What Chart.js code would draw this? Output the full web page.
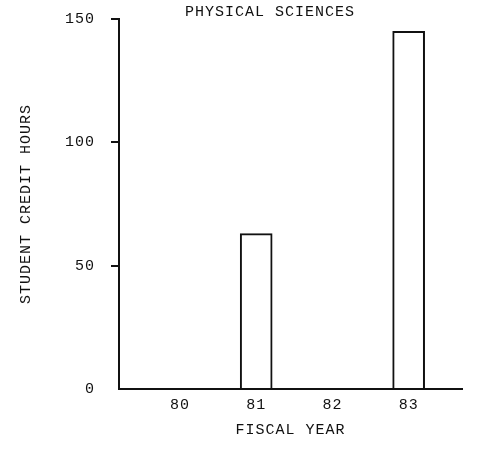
<!DOCTYPE html>
<html>
<head>
<meta charset="utf-8">
<script src="https://cdn.jsdelivr.net/npm/chart.js@4"></script>
<style>
  html, body { margin: 0; padding: 0; background: #fff; }
  canvas { display: block; }
</style>
</head>
<body>
<canvas id="creditChart" width="479" height="449"></canvas>
<script>
const chartTitle = 'PHYSICAL SCIENCES';
const fiscalYears = [80, 81, 82, 83];
const creditHours = [0, 63, 0, 145];
const hourTicks = [0, 50, 100, 150];

const typeFont = { family: "'Liberation Mono', 'DejaVu Sans Mono', monospace", size: 15 };

// typewriter text in the scan is spaced a little wider than the font
// (canvas resizes reset the context, so set it again before layout and draw)
const spacingPlugin = {
  id: 'typeSpacing',
  beforeLayout(chart) {
    chart.ctx.letterSpacing = '1px';
  },
  beforeDraw(chart) {
    chart.ctx.letterSpacing = '1px';
  },
};

// the title in the scan sits a bit left of the plot's middle
const titlePlugin = {
  id: 'scanTitle',
  afterDraw(chart) {
    const { ctx, chartArea } = chart;
    ctx.save();
    ctx.font = `${typeFont.size}px ${typeFont.family}`;
    ctx.fillStyle = '#111';
    ctx.textAlign = 'center';
    ctx.textBaseline = 'middle';
    ctx.fillText(chartTitle, chartArea.left + (chartArea.right - chartArea.left) * 0.44, 12);
    ctx.restore();
  },
};

const ctx = document.getElementById('creditChart');

const chart = new Chart(ctx, {
  type: 'bar',
  data: {
    datasets: [
      {
        label: 'Student credit hours',
        data: fiscalYears.map((yr, i) => ({ x: yr, y: creditHours[i] })),
        backgroundColor: '#fff',
        borderColor: '#111',
        borderWidth: 2,
        barThickness: 32,
      },
    ],
  },
  options: {
    responsive: false,
    animation: false,
    layout: { padding: { left: 17, right: 17, top: 19, bottom: 10 } },
    plugins: {
      legend: { display: false },
      tooltip: { enabled: false },
    },
    scales: {
      x: {
        type: 'linear',
        offset: false,
        min: 79.2,
        max: 83.7,
        afterBuildTicks: scale => {
          scale.ticks = fiscalYears.map(v => ({ value: v }));
        },
        grid: { display: false, drawTicks: false },
        border: { color: '#111', width: 2 },
        ticks: { color: '#111', font: typeFont, padding: 7, maxRotation: 0 },
        title: {
          display: true,
          text: 'FISCAL YEAR',
          color: '#111',
          font: typeFont,
          padding: { top: 0, bottom: 0 },
        },
      },
      y: {
        min: 0,
        max: 150,
        afterBuildTicks: scale => {
          scale.ticks = hourTicks.map(v => ({ value: v }));
        },
        // the wide tick padding would otherwise push the plot down
        afterFit: scale => {
          scale.paddingTop = 9;
          scale.paddingBottom = 9;
        },
        grid: {
          drawOnChartArea: false,
          drawTicks: true,
          tickLength: 8,
          lineWidth: 2,
          color: c => (c.tick && c.tick.value === 0 ? 'rgba(0,0,0,0)' : '#111'),
        },
        border: { color: '#111', width: 2 },
        ticks: { color: '#111', font: typeFont, padding: 16 },
        title: {
          display: true,
          text: 'STUDENT CREDIT HOURS',
          color: '#111',
          font: typeFont,
          padding: { top: 0, bottom: 14 },
        },
      },
    },
  },
  plugins: [spacingPlugin, titlePlugin],
});
</script>
</body>
</html>
